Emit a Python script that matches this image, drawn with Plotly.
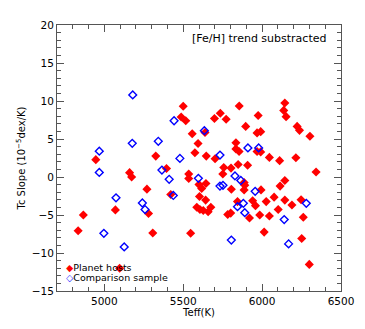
import plotly.graph_objects as go

# Planet hosts (red filled diamonds)
host_teff = [5500, 5487, 5516, 5698, 5557, 5638, 5594, 5574, 5855, 6144,
             6137, 6152, 5735, 5772, 5975, 5896, 5968, 5991, 6222, 6237,
             6303, 5834, 5834, 5854, 5968, 5991, 4946, 5326, 5160, 5173,
             5646, 5702, 5394, 5535, 5535, 5757, 5803, 5848, 5751, 6046,
             6111, 6214, 5908, 6342, 6144, 5270, 5280, 5070, 4867, 4834,
             5307, 5097, 5600, 5644, 5617, 5603, 5642, 5586, 5606, 5627,
             5658, 5675, 5547, 5421, 5805, 5844, 5782, 5801, 5886, 5890,
             5886, 6114, 5993, 6076, 6144, 6247, 6189, 6026, 5940, 5958,
             6102, 5920, 5985, 6046, 6261, 6013, 6251, 6299]
host_slope = [9.3, 7.9, 7.4, 7.7, 5.7, 5.85, 4.4, 3.2, 9.35, 9.74,
              8.76, 7.94, 8.38, 7.6, 8.1, 6.66, 5.8, 5.97, 6.66, 6.14,
              5.37, 4.5, 3.7, 3.36, 3.36, 3.3, 2.28, 2.75, 0.57, 0.0,
              2.75, 2.4, 1.12, 0.4, -0.2, 1.25, 1.17, 1.64, 0.4, 2.58,
              2.15, 2.54, 1.55, 0.66, -0.46, -1.6, -4.8, -4.33, -5.0, -7.07,
              -7.37, -12.0, -1.0, -0.85, -1.5, -2.56, -3.04, -3.98, -4.28, -4.41,
              -4.58, -3.98, -7.41, -2.31, -1.62, -3.24, -4.93, -4.75, -0.72, -1.07,
              -1.7, -1.2, -1.7, -2.65, -3.04, -3.0, -3.68, -3.24, -3.13, -3.77,
              -4.28, -5.4, -5.0, -5.14, -5.3, -7.25, -8.1, -11.5]

# Comparison sample (blue open diamonds)
comp_teff = [5180, 5442, 5634, 5177, 5342, 4968, 5910, 5978, 4968, 5733,
             5479, 5365, 5411, 5596, 5828, 5865, 5074, 5241, 5258, 4997,
             5126, 5437, 5733, 5752, 5844, 5956, 6280, 5881, 5890, 6140,
             5805, 6168]
comp_slope = [10.8, 7.4, 6.1, 4.43, 4.7, 3.4, 3.83, 3.83, 0.6, 2.88,
              2.45, 0.91, -0.3, -0.17, 0.14, -0.46, -2.74, -3.42, -4.28, -7.41,
              -9.2, -2.43, -1.2, -1.1, -3.9, -1.88, -3.46, -3.46, -4.69, -5.6,
              -8.3, -8.8]

x_ticks = [5000, 5500, 6000, 6500]
y_ticks = [-15, -10, -5, 0, 5, 10, 15, 20]

fig = go.Figure()

fig.add_trace(go.Scatter(
    x=host_teff, y=host_slope, mode='markers', name='Planet hosts',
    marker=dict(symbol='diamond', size=7, color='#ff0000', line=dict(width=0))
))
fig.add_trace(go.Scatter(
    x=comp_teff, y=comp_slope, mode='markers', name='Comparison sample',
    marker=dict(symbol='diamond-open', size=6, color='#0000ff', line=dict(width=1.4))
))

fig.add_annotation(
    x=0.955, y=0.95, xref='paper', yref='paper', xanchor='right', yanchor='middle',
    text='[Fe/H] trend substracted', showarrow=False,
    font=dict(size=11, color='#000000')
)

# hand-drawn legend in the lower-left corner
fig.add_annotation(
    x=0.025, y=0.088, xref='paper', yref='paper', xanchor='left', yanchor='middle',
    text='<span style="color:#ff0000">◆</span>Planet hosts', showarrow=False,
    font=dict(size=9.5, color='#000000')
)
fig.add_annotation(
    x=0.025, y=0.05, xref='paper', yref='paper', xanchor='left', yanchor='middle',
    text='<span style="color:#0000ff">◇</span>Comparison sample', showarrow=False,
    font=dict(size=9.5, color='#000000')
)

axis_common = dict(
    showgrid=False, zeroline=False, showline=True, linecolor='#555555', linewidth=1,
    mirror='allticks', ticks='inside', ticklen=7, tickcolor='#555555',
    tickfont=dict(size=10.5, color='#000000'),
)

# the page body adds an 8px offset, so the figure is sized to the visible area
fig.update_layout(
    width=357, height=321,
    margin=dict(l=49, r=18, t=11, b=38),
    paper_bgcolor='white', plot_bgcolor='white',
    font=dict(family='DejaVu Sans', color='#000000'),
    xaxis=dict(range=[4700, 6500], tickvals=x_ticks,
               title=dict(text='Teff(K)', font=dict(size=10), standoff=2),
               minor=dict(dtick=100, ticks='inside', ticklen=4, tickcolor='#555555'),
               **axis_common),
    yaxis=dict(range=[-15, 20], tickvals=y_ticks,
               title=dict(text='Tc Slope (10<sup>−5</sup>dex/K)', font=dict(size=10), standoff=4),
               minor=dict(dtick=1, ticks='inside', ticklen=4, tickcolor='#555555'),
               **axis_common),
    showlegend=False,
)

fig.write_html('out.html')
